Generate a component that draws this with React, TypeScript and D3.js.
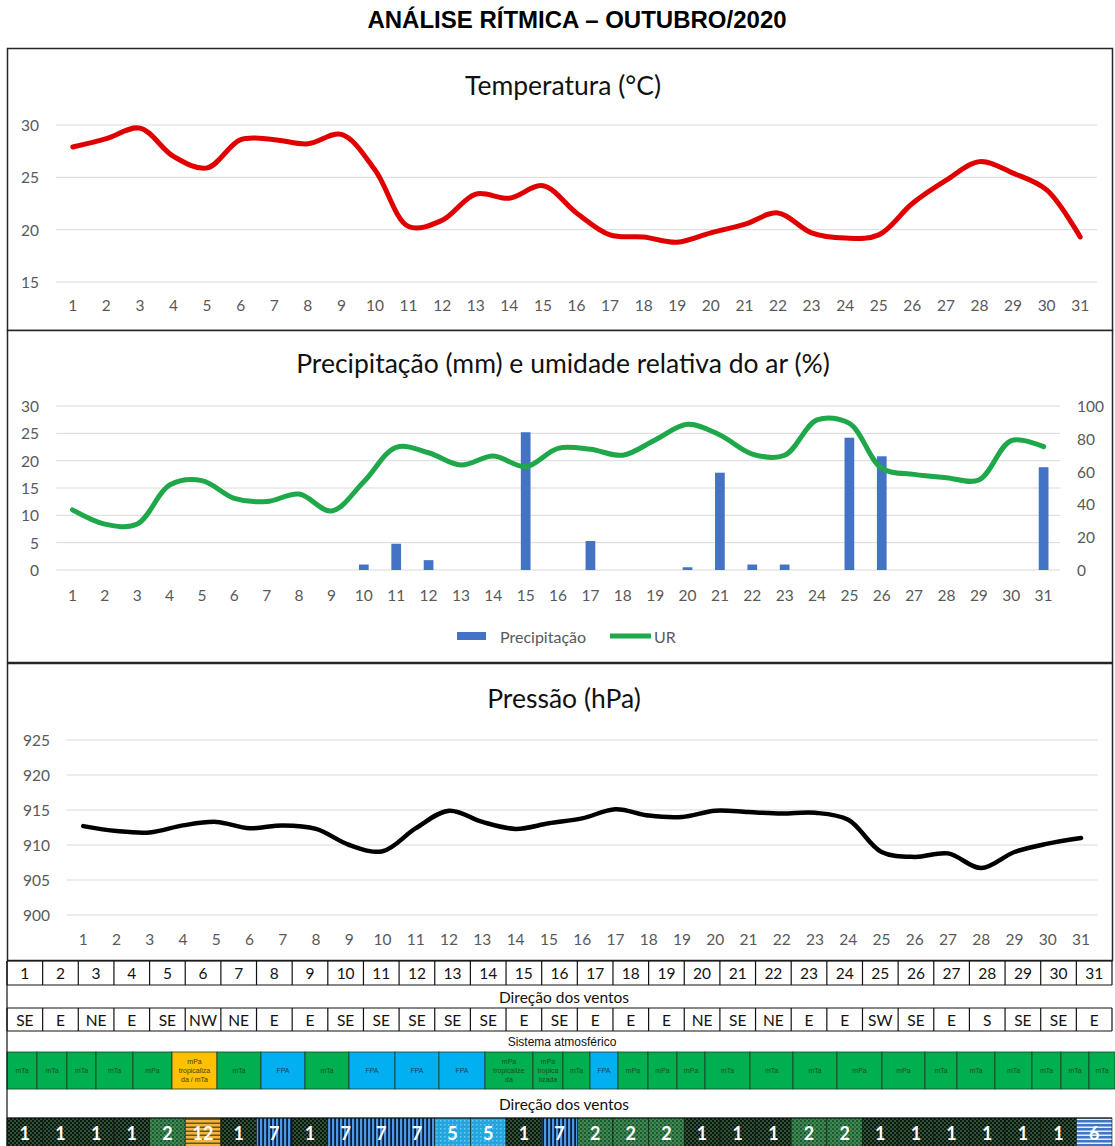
import React from 'react';
import * as d3 from 'd3';

// ---------- DATA ----------
const DAYS = [1,2,3,4,5,6,7,8,9,10,11,12,13,14,15,16,17,18,19,20,21,22,23,24,25,26,27,28,29,30,31];

const TEMPERATURE = [27.9, 28.7, 29.7, 27.0, 25.9, 28.6, 28.6, 28.2, 29.1, 25.7, 20.3, 20.9, 23.4, 23.0, 24.2, 21.6, 19.5, 19.3, 18.8, 19.7, 20.5, 21.6, 19.7, 19.2, 19.5, 22.5, 24.7, 26.5, 25.4, 23.8, 19.3];

const PRECIPITATION = [0, 0, 0, 0, 0, 0, 0, 0, 0, 1.0, 4.8, 1.8, 0, 0, 25.2, 0, 5.3, 0, 0, 0.5, 17.8, 1.0, 1.0, 0, 24.2, 20.8, 0, 0, 0, 0, 18.8];

const HUMIDITY = [36.7, 28, 28, 51.8, 54.5, 43.7, 41.7, 46.3, 36, 53.8, 74.8, 71.5, 64, 69.5, 63, 74.2, 73.6, 70, 79.3, 88.8, 82.3, 70.7, 70, 91.5, 89.4, 62, 58.3, 56.3, 54.9, 78.9, 75.2];

const PRESSURE = [912.7, 912.0, 911.8, 912.8, 913.3, 912.4, 912.8, 912.3, 910.0, 909.1, 912.4, 914.9, 913.3, 912.3, 913.1, 913.8, 915.1, 914.2, 914.0, 914.9, 914.7, 914.5, 914.6, 913.6, 909.0, 908.3, 908.8, 906.7, 909.0, 910.2, 911.0];

const WIND_DIRECTION = ['SE','E','NE','E','SE','NW','NE','E','E','SE','SE','SE','SE','SE','E','SE','E','E','E','NE','SE','NE','E','E','SW','SE','E','S','SE','SE','E'];

const SYSTEMS = ['mTa','mTa','mTa','mTa','mPa','mPa\ntropicaliza\nda / mTa','mTa','FPA','mTa','FPA','FPA','FPA','mPa\ntropicalize\nda','mPa\ntropica\nlizada','mTa','FPA','mPa','mPa','mPa','mTa','mTa','mTa','mPa','mPa','mTa','mTa','mTa','mTa','mTa','mTa'];
// relative widths of the (merged) table cells of the "Sistema atmosférico" row
const SYSTEM_CELL_WEIGHTS = [30,30,29,37,39,45,44,44,44,46,44,46,48,30,27,28,30,29,28,45,43,44,45,43,32,38,37,29,28,26];

const WIND_CLASS = [1,1,1,1,2,12,1,7,1,7,7,7,5,5,1,7,2,2,2,1,1,1,2,2,1,1,1,1,1,1,6];

const TEMP_TICKS = [15, 20, 25, 30];
const PRECIP_TICKS = [0, 5, 10, 15, 20, 25, 30];
const UR_TICKS = [0, 20, 40, 60, 80, 100];
const PRESSURE_TICKS = [900, 905, 910, 915, 920, 925];

// ---------- STYLE ----------
const W = 1115, H = 1146;
const FONT = "Lato, 'Open Sans', sans-serif";
const ARIAL = "'Liberation Sans', Arial, sans-serif";
const AX = '#595959';
const GRID = '#d9d9d9';
const BORDER = '#262626';
const TICK_FS = 15.5;
const TITLE_FS = 26.5;

function systemColor(label: string) {
  if (label.startsWith('FPA')) return '#00B0F0';
  if (label.includes('/ mTa')) return '#FFC000';
  return '#00B050';
}
function systemText(label: string) {
  if (label.startsWith('FPA')) return '#13405a';
  if (label.includes('/ mTa')) return '#4a3a08';
  return '#1c4a26';
}
const CLASS_PATTERN: Record<number, string> = { 1: 'p1', 2: 'p2', 12: 'p12', 7: 'p7', 5: 'p5', 6: 'p6' };

export default function App() {
  // Temperature
  const xT = d3.scalePoint<number>().domain(DAYS).range([56, 1097]).padding(0.5);
  const yT = d3.scaleLinear().domain([15, 30]).range([282, 125]);
  const lineT = d3.line<number>().x((_, i) => xT(DAYS[i])!).y(d => yT(d)).curve(d3.curveCatmullRom.alpha(0.5));

  // Precipitation / humidity
  const xP = d3.scalePoint<number>().domain(DAYS).range([56.3, 1059.8]).padding(0.5);
  const yP = d3.scaleLinear().domain([0, 30]).range([570, 406]);
  const yU = d3.scaleLinear().domain([0, 100]).range([570, 406]);
  const barW = xP.step() * 0.3;
  const lineU = d3.line<number>().x((_, i) => xP(DAYS[i])!).y(d => yU(d)).curve(d3.curveCatmullRom.alpha(0.5));

  // Pressure
  const xR = d3.scalePoint<number>().domain(DAYS).range([66.6, 1097.7]).padding(0.5);
  const yR = d3.scaleLinear().domain([900, 925]).range([915, 740]);
  const lineR = d3.line<number>().x((_, i) => xR(DAYS[i])!).y(d => yR(d)).curve(d3.curveCatmullRom.alpha(0.5));

  // Table
  const xTab = d3.scaleBand<number>().domain(DAYS).range([7, 1112]);
  const rowY = [961, 985, 1008, 1031, 1052, 1089, 1118, 1150];
  const cum = [0, ...d3.cumsum(SYSTEM_CELL_WEIGHTS)];
  const xSys = d3.scaleLinear().domain([0, cum[cum.length - 1]]).range([7, 1115]);

  const tableEdges = [...DAYS.map(d => xTab(d)!), 1112];

  return (
    <div style={{ position: 'absolute', left: 0, top: 0, width: W, height: H, overflow: 'hidden', background: '#fff' }}>
      <svg width={W} height={H} style={{ display: 'block' }}>
        <defs>
          <pattern id="p1" width="4" height="4" patternUnits="userSpaceOnUse">
            <rect width="4" height="4" fill="#2f5238" />
            <rect x="0" y="0" width="2" height="2" fill="#0c170e" />
            <rect x="2" y="2" width="2" height="2" fill="#0c170e" />
          </pattern>
          <pattern id="p2" width="4" height="4" patternUnits="userSpaceOnUse">
            <rect width="4" height="4" fill="#3d8a52" />
            <rect x="0" y="0" width="2" height="2" fill="#1f5430" />
            <rect x="2" y="2" width="2" height="2" fill="#2a6b3c" />
          </pattern>
          <pattern id="p12" width="4" height="4" patternUnits="userSpaceOnUse">
            <rect width="4" height="4" fill="#F4B43C" />
            <rect x="0" y="2.5" width="4" height="1.5" fill="#6e5216" />
          </pattern>
          <pattern id="p7" width="4" height="4" patternUnits="userSpaceOnUse">
            <rect width="4" height="4" fill="#4f98e6" />
            <rect x="2.2" y="0" width="1.8" height="4" fill="#0b1c36" />
          </pattern>
          <pattern id="p5" width="4" height="4" patternUnits="userSpaceOnUse">
            <rect width="4" height="4" fill="#22a6e2" />
            <rect x="0" y="0" width="1.5" height="1.5" fill="#6cc8f0" />
          </pattern>
          <pattern id="p6" width="4" height="4" patternUnits="userSpaceOnUse">
            <rect width="4" height="4" fill="#3b78c4" />
            <rect x="0" y="2.5" width="4" height="1.5" fill="#e6edf8" />
          </pattern>
        </defs>

        {/* Main title */}
        <text x={577} y={19} textAnchor="middle" dominantBaseline="central" fontFamily={ARIAL} fontWeight="bold" fontSize={24} fill="#000">ANÁLISE RÍTMICA – OUTUBRO/2020</text>

        {/* ===== Panel 1: Temperature ===== */}
        <rect x={7.5} y={48.5} width={1105} height={282} fill="#fff" stroke={BORDER} strokeWidth={1.5} />
        <text x={563} y={85} textAnchor="middle" dominantBaseline="central" fontFamily={FONT} fontSize={TITLE_FS} fill="#111">Temperatura (°C)</text>
        {TEMP_TICKS.map(t => (
          <g key={t}>
            <line x1={56} x2={1097} y1={yT(t)} y2={yT(t)} stroke={GRID} strokeWidth={1} />
            <text x={39} y={yT(t)} textAnchor="end" dominantBaseline="central" fontFamily={FONT} fontSize={TICK_FS} fill={AX}>{t}</text>
          </g>
        ))}
        {DAYS.map(d => (
          <text key={d} x={xT(d)} y={305} textAnchor="middle" dominantBaseline="central" fontFamily={FONT} fontSize={TICK_FS} fill={AX}>{d}</text>
        ))}
        <path d={lineT(TEMPERATURE)!} fill="none" stroke="#e00000" strokeWidth={5} strokeLinecap="round" strokeLinejoin="round" />

        {/* ===== Panel 2: Precipitation and humidity ===== */}
        <rect x={7.5} y={330.5} width={1105} height={332} fill="#fff" stroke={BORDER} strokeWidth={1.5} />
        <text x={563} y={363} textAnchor="middle" dominantBaseline="central" fontFamily={FONT} fontSize={TITLE_FS} fill="#111">Precipitação (mm) e umidade relativa do ar (%)</text>
        {PRECIP_TICKS.map(t => (
          <g key={t}>
            <line x1={56.3} x2={1059.8} y1={yP(t)} y2={yP(t)} stroke={GRID} strokeWidth={1} />
            <text x={39} y={yP(t)} textAnchor="end" dominantBaseline="central" fontFamily={FONT} fontSize={TICK_FS} fill={AX}>{t}</text>
          </g>
        ))}
        {UR_TICKS.map(t => (
          <text key={t} x={1077} y={yU(t)} textAnchor="start" dominantBaseline="central" fontFamily={FONT} fontSize={TICK_FS} fill={AX}>{t}</text>
        ))}
        {DAYS.map(d => (
          <text key={d} x={xP(d)} y={595} textAnchor="middle" dominantBaseline="central" fontFamily={FONT} fontSize={TICK_FS} fill={AX}>{d}</text>
        ))}
        {PRECIPITATION.map((v, i) => v > 0 ? (
          <rect key={i} x={xP(DAYS[i])! - barW / 2} y={yP(v)} width={barW} height={yP(0) - yP(v)} fill="#4472C4" />
        ) : null)}
        <path d={lineU(HUMIDITY)!} fill="none" stroke="#1fa84a" strokeWidth={5} strokeLinecap="round" strokeLinejoin="round" />
        {/* legend */}
        <rect x={457} y={632} width={29} height={8} fill="#4472C4" />
        <text x={500} y={636} dominantBaseline="central" fontFamily={FONT} fontSize={16} fill={AX}>Precipitação</text>
        <line x1={610} x2={651} y1={636} y2={636} stroke="#1fa84a" strokeWidth={5} />
        <text x={654} y={636} dominantBaseline="central" fontFamily={FONT} fontSize={16} fill={AX}>UR</text>

        {/* ===== Panel 3: Pressure ===== */}
        <rect x={7.5} y={663.5} width={1105} height={297} fill="#fff" stroke={BORDER} strokeWidth={1.5} />
        <text x={564} y={698} textAnchor="middle" dominantBaseline="central" fontFamily={FONT} fontSize={TITLE_FS} fill="#111">Pressão (hPa)</text>
        {PRESSURE_TICKS.map(t => (
          <g key={t}>
            <line x1={66.6} x2={1097.7} y1={yR(t)} y2={yR(t)} stroke={GRID} strokeWidth={1} />
            <text x={50} y={yR(t)} textAnchor="end" dominantBaseline="central" fontFamily={FONT} fontSize={TICK_FS} fill={AX}>{t}</text>
          </g>
        ))}
        {DAYS.map(d => (
          <text key={d} x={xR(d)} y={939} textAnchor="middle" dominantBaseline="central" fontFamily={FONT} fontSize={TICK_FS} fill={AX}>{d}</text>
        ))}
        <path d={lineR(PRESSURE)!} fill="none" stroke="#000" strokeWidth={4.5} strokeLinecap="round" strokeLinejoin="round" />

        {/* ===== Table ===== */}
        {SYSTEMS.map((s, i) => {
          const x0 = xSys(cum[i]), x1 = xSys(cum[i + 1]);
          const lines = s.split('\n');
          const cy = (rowY[4] + rowY[5]) / 2;
          return (
            <g key={i}>
              <rect x={x0} y={rowY[4]} width={x1 - x0} height={rowY[5] - rowY[4]} fill={systemColor(s)} stroke="#1e3a22" strokeWidth={0.8} />
              {lines.map((l, j) => (
                <text key={j} x={(x0 + x1) / 2} y={cy + (j - (lines.length - 1) / 2) * 9} textAnchor="middle" dominantBaseline="central" fontFamily={ARIAL} fontSize={7} fill={systemText(s)}>{l}</text>
              ))}
            </g>
          );
        })}
        {WIND_CLASS.map((c, i) => {
          const d = DAYS[i];
          return (
            <g key={i}>
              <rect x={xTab(d)} y={rowY[6]} width={xTab.bandwidth()} height={rowY[7] - rowY[6]} fill={`url(#${CLASS_PATTERN[c]})`} stroke="#0a140b" strokeWidth={0.6} />
              <text x={xTab(d)! + xTab.bandwidth() / 2} y={1133} textAnchor="middle" dominantBaseline="central" fontFamily={FONT} fontWeight="bold" fontSize={18} fill="#fff">{c}</text>
            </g>
          );
        })}
        {[rowY[0], rowY[1], rowY[2], rowY[3], rowY[6]].map((y, i) => (
          <line key={i} x1={7} x2={1112} y1={y} y2={y} stroke="#111" strokeWidth={1.2} />
        ))}
        {tableEdges.map((x, i) => (
          <g key={i}>
            <line x1={x} x2={x} y1={rowY[0]} y2={rowY[1]} stroke="#111" strokeWidth={1.2} />
            <line x1={x} x2={x} y1={rowY[2]} y2={rowY[3]} stroke="#111" strokeWidth={1.2} />
          </g>
        ))}
        <line x1={7} x2={7} y1={rowY[0]} y2={H} stroke="#111" strokeWidth={1.2} />
        {DAYS.map(d => (
          <text key={d} x={xTab(d)! + xTab.bandwidth() / 2} y={973} textAnchor="middle" dominantBaseline="central" fontFamily={FONT} fontSize={15.5} fill="#111">{d}</text>
        ))}
        <text x={564} y={997} textAnchor="middle" dominantBaseline="central" fontFamily={FONT} fontSize={15.5} fill="#111">Direção dos ventos</text>
        {WIND_DIRECTION.map((w, i) => (
          <text key={i} x={xTab(DAYS[i])! + xTab.bandwidth() / 2} y={1020} textAnchor="middle" dominantBaseline="central" fontFamily={FONT} fontSize={15.5} fill="#111">{w}</text>
        ))}
        <text x={562} y={1042} textAnchor="middle" dominantBaseline="central" fontFamily={ARIAL} fontSize={12} fill="#111">Sistema atmosférico</text>
        <text x={564} y={1104} textAnchor="middle" dominantBaseline="central" fontFamily={FONT} fontSize={15.5} fill="#111">Direção dos ventos</text>
      </svg>
    </div>
  );
}
